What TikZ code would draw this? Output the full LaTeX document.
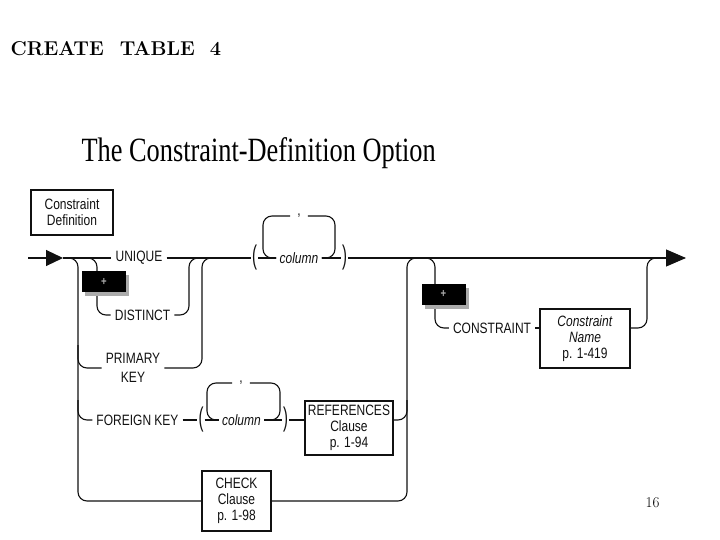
\documentclass[tikz,border=0pt]{standalone}
\usepackage{fontspec}
\usepackage{tikz}
\usetikzlibrary{arrows.meta,positioning,shadows}
\newfontfamily\railfont[FakeStretch=0.8]{Liberation Sans}
\newfontfamily\parenfont[FakeStretch=0.55]{Liberation Sans}
\newfontfamily\titlefont[FakeStretch=0.775]{Liberation Serif}
\definecolor{ink}{HTML}{111111}
\definecolor{shade}{HTML}{ABABAB}
\newcommand{\rsize}{\fontsize{15}{16}\selectfont}

\begin{document}
\begin{tikzpicture}[
  x=1pt, y=-1pt,
  rail/.style={draw=ink, line width=1.1pt, rounded corners=9pt},
  word/.style={font=\railfont\rsize, text=ink, inner sep=4pt},
  param/.style={font=\railfont\itshape\rsize, text=ink, inner sep=3pt},
  paren/.style={font=\parenfont\fontsize{27}{27}\selectfont, text=ink, inner sep=1pt},
  sep/.style={font=\railfont\rsize, text=ink, inner xsep=7pt, inner ysep=2pt},
  box/.style={draw=ink, line width=1.4pt, fill=white, font=\railfont\rsize, text=ink, align=center, inner sep=1pt},
  plus/.style={fill=black, text=shade, font=\railfont\bfseries\fontsize{12}{12}\selectfont, minimum width=44pt, minimum height=21pt, inner sep=0pt,
    drop shadow={shadow xshift=3pt, shadow yshift=-4pt, fill=shade, opacity=1}},
  tip/.style={-{Triangle[length=17pt,width=16pt]}}
]
\useasboundingbox[fill=white] (0,0) rectangle (720,540);

\node[anchor=base west, font=\bfseries\fontsize{20}{24}\selectfont] (head) at (7,56) {CREATE\hspace{0.8em}TABLE\hspace{0.75em}4};
\node[anchor=base west, font=\titlefont\fontsize{34}{40}\selectfont] (title) at (78,162) {The Constraint-Definition Option};
\node[box, minimum width=82pt, minimum height=45pt] (cdef) at (72,212.5) {Constraint\\Definition};

\coordinate (in) at (28,258);
\coordinate (start) at (63,258);
\coordinate (dIn) at (86,258);
\coordinate (dOut) at (200,258);
\coordinate (pOut) at (214,258);
\coordinate (pIn) at (78,345);
\coordinate (fIn) at (78,400);
\coordinate (fOut) at (407,400);
\coordinate (cIn) at (421,258);
\coordinate (cOut) at (660,258);
\coordinate (out) at (686,258);

\node[word] (unique) at (139,258) {UNIQUE};
\node[word] (distinct) at (142.5,315) {DISTINCT};
\node[word, align=center, font=\railfont\fontsize{15}{19}\selectfont] (pk) at (133,368) {PRIMARY\\KEY};
\node[word] (fk) at (137.5,420) {FOREIGN KEY};
\node[paren] (lp1) at (254.5,258) {(};
\node[param] (col1) at (299,258) {column};
\node[paren] (rp1) at (344.5,258) {)};
\node[sep] (com1) at (299,216) {,};
\node[paren] (lp2) at (201,420) {(};
\node[param] (col2) at (241.5,420) {column};
\node[paren] (rp2) at (285.5,420) {)};
\node[sep] (com2) at (241,383) {,};
\node[box, minimum width=88pt, minimum height=54pt] (refs) at (349,428) {REFERENCES\\Clause\\p. 1-94};
\node[box, minimum width=69pt, minimum height=60pt] (check) at (236.5,501) {CHECK\\Clause\\p. 1-98};
\node[word] (constraint) at (492,328) {CONSTRAINT};
\node[box, minimum width=90pt, minimum height=59pt] (cname) at (585,338.5) {\textit{Constraint}\\\textit{Name}\\p. 1-419};

\draw[rail, tip] (in) -- (start);
\draw[rail] (start) -- (unique);
\draw[rail] (unique) -- (lp1);
\draw[rail] (lp1) -- (col1);
\draw[rail] (col1) -- (rp1);
\draw[rail, -{Triangle[length=20pt,width=17pt]}] (rp1) -- (out);
\draw[rail] (col1.east) -- (335,258) -- (335,216) -- (com1.east);
\draw[rail] (com1.west) -- (263,216) -- (263,258) -- (col1.west);

\draw[rail] (dIn) -- (97,258) -- (97,315) -- (distinct.west);
\draw[rail] (distinct.east) -- (189,315) -- (189,258) -- (dOut);
\draw[rail] (start) -- (78,258) -- (78,501) -- (check.west);
\draw[rail] (check.east) -- (407,501) -- (407,258) -- (cIn);
\draw[rail] (pIn) -- (78,368) -- (pk.west);
\draw[rail] (pk.east) -- (202,368) -- (202,258) -- (pOut);
\draw[rail] (fIn) -- (78,420) -- (fk.west);
\draw[rail] (fk) -- (lp2);
\draw[rail] (lp2) -- (col2);
\draw[rail] (col2) -- (rp2);
\draw[rail] (rp2) -- (rp2 -| refs.west);
\draw[rail] (refs.east |- rp2) -- (407,420) -- (fOut);
\draw[rail] (col2.east) -- (280,420) -- (280,383) -- (com2.east);
\draw[rail] (com2.west) -- (207,383) -- (207,420) -- (col2.west);

\draw[rail] (cIn) -- (435,258) -- (435,328) -- (constraint.west);
\draw[rail] (constraint) -- (constraint -| cname.west);
\draw[rail] (cname.east |- constraint) -- (647,328) -- (647,258) -- (cOut);

\node[plus] (plusA) at (104,281.5) {+};
\node[plus] (plusB) at (443.5,294) {+};

\node[font=\fontsize{15}{15}\selectfont] (page) at (652.5,503) {16};
\end{tikzpicture}
\end{document}
